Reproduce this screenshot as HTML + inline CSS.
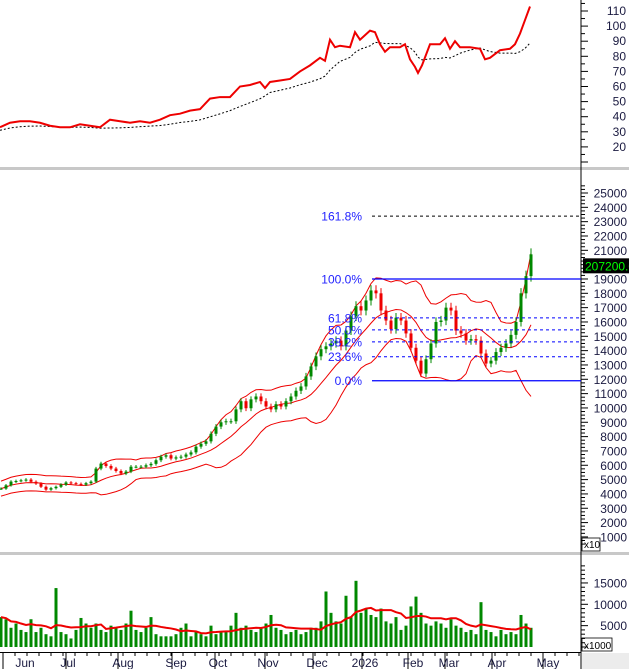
<!DOCTYPE html>
<html><head><meta charset="utf-8"><style>
body{margin:0;background:#fff;}
svg{display:block;font-family:"Liberation Sans",sans-serif;}
</style></head><body>
<svg id="c" width="629" height="669" xmlns="http://www.w3.org/2000/svg"></svg>
<script>
const closes=[4370,4600,4860,4900,4950,5000,4850,4720,4500,4300,4400,4500,4650,4800,4750,4700,4650,4750,4860,5770,6120,5950,5770,5600,5420,5560,5900,5900,5900,6000,6100,6350,6600,6700,6470,6550,6600,6750,6900,7300,7500,7670,8200,8700,9000,9070,9070,9900,10470,9980,10600,10800,10470,10100,9900,10260,10100,10470,10800,11200,11500,12200,12900,13600,14100,14300,14500,14700,14300,15400,16400,17100,16800,17500,18200,18000,16800,16100,15500,16300,16100,15200,14200,13300,12400,13400,14500,16000,16100,17000,16800,15400,15200,14700,14800,14700,13800,13100,13300,13900,14200,14500,15100,16000,18000,19200,20720];
const volumes=[7000,6500,4500,5500,4000,3500,6500,3500,4500,3000,2500,13800,3500,3000,2000,4000,6800,5500,4500,5500,4000,3500,5000,4500,4000,5500,8500,4000,3500,4500,7000,3000,2500,2500,2500,3000,4500,5500,2500,3500,3000,2500,5000,3000,3500,3500,5000,8000,4500,5000,4000,3500,4500,5500,7500,4500,4000,3000,3500,4000,3000,3500,4500,4500,6000,13000,8000,6000,5500,12000,7000,15500,8000,9000,7500,7000,9000,6000,5500,7000,4000,5000,9500,11800,8000,5500,5000,6000,5500,4500,6500,5000,4500,3500,4000,3000,10500,4000,3500,2500,4000,3000,3500,3000,7500,5500,4500];
const rsX=[0,10,20,30,40,50,60,70,80,90,100,110,120,130,140,150,160,170,180,190,200,210,220,230,240,250,260,265,270,280,290,300,310,320,325,330,335,340,350,355,360,370,375,380,385,390,400,405,410,415,418,422,430,440,445,450,455,460,470,480,485,490,500,510,515,520,525,530];
const rsVals=[33,36,37,37,36,34,33,33,35,34,33,38,37,36,37,36,38,41,42,44,45,52,53,53,60,61,63,59,63,64,65,70,74,79,77,91,86,87,86,96,91,97,96,88,83,86,86,88,78,73,69,74,88,88,92,85,90,86,86,85,78,79,84,85,88,95,104,113];
const priceTicks=[25000,24000,23000,22000,21000,20000,19000,18000,17000,16000,15000,14000,13000,12000,11000,10000,9000,8000,7000,6000,5000,4000,3000,2000,1000];
const topTicks=[110,100,90,80,70,60,50,40,30,20];
const volTicks=[15000,10000,5000];
const fibPct=["0.0%","23.6%","38.2%","50.0%","61.8%","100.0%","161.8%"];
const fibRatio=[0,0.236,0.382,0.5,0.618,1,1.618];
const fibLow=11900, fibHigh=19000;
const months=["Jun","Jul","Aug","Sep","Oct","Nov","Dec","2026","Feb","Mar","Apr","May"];
const monthX=[25,68,123,176,218,268,317,365,413,449,497,548];
const monthBounds=[3,66,118,172,215,265,313,362,408,445,492,543];

const svg=document.getElementById('c');const NS="http://www.w3.org/2000/svg";
function el(t,a,p){const e=document.createElementNS(NS,t);for(const k in a)e.setAttribute(k,a[k]);(p||svg).appendChild(e);return e;}
const xi=i=>1+i*5;
const yP=v=>193+(25000-v)*0.01433;
const yT=v=>11+(110-v)*1.51;
const yV=v=>647-v*0.00427;
const AX=581;

let s1=el('rect',{x:0,y:167,width:629,height:3,fill:'#c8c8c8'});


let s2=el('rect',{x:0,y:552,width:629,height:3,fill:'#c8c8c8'});


let ax=el('line',{x1:AX,y1:0,x2:AX,y2:669,stroke:'#000','stroke-width':1});



const tg=el('g',{});


for(let v=115;v>=10;v-=5){el('line',{x1:AX,y1:yT(v),x2:AX+(v%10?4:7),y2:yT(v),stroke:'#000'},tg);}
topTicks.forEach(v=>{const t=el('text',{x:626,y:yT(v)+4,'font-size':12,'text-anchor':'end',fill:'#1a1a40'},tg);t.textContent=v;

});
let rsPts=rsX.map((x,i)=>x+','+yT(rsVals[i]));
let maPts=[];for(let i=0;i<rsVals.length;i++){let a=Math.max(0,i-7),s=0;for(let j=a;j<=i;j++)s+=rsVals[j];maPts.push(rsX[i]+','+(yT(s/(i-a+1))+3));}
let rsMa=el('polyline',{points:maPts.join(' '),fill:'none',stroke:'#000','stroke-dasharray':'2,2','stroke-width':1},tg);


let rsL=el('polyline',{points:rsPts.join(' '),fill:'none',stroke:'#e00','stroke-width':2},tg);



const pg=el('g',{});


for(let v=25500;v>=500;v-=250){el('line',{x1:AX,y1:yP(v),x2:AX+(v%1000?4:7),y2:yP(v),stroke:'#000'},pg);}
priceTicks.forEach(v=>{const t=el('text',{x:627,y:yP(v)+4.5,'font-size':12,'text-anchor':'end',fill:'#1a1a40'},pg);t.textContent=v;

});
const N=10;let up=[],mid=[],lo=[];
for(let i=0;i<closes.length;i++){let a=Math.max(0,i-N+1),n=i-a+1,s=0;for(let j=a;j<=i;j++)s+=closes[j];let m=s/n,q=0;for(let j=a;j<=i;j++)q+=(closes[j]-m)**2;let sd=Math.max(Math.sqrt(q/n),m*0.06);
up.push(xi(i)+','+yP(m+2*sd));mid.push(xi(i)+','+yP(m));lo.push(xi(i)+','+yP(m-2*sd));}
[['bollinger-upper',up],['bollinger-middle',mid],['bollinger-lower',lo]].forEach(([n,p])=>{let l=el('polyline',{points:p.join(' '),fill:'none',stroke:'#e00','stroke-width':1},pg);

});
closes.forEach((c,i)=>{const o=i?closes[i-1]:c;const up_=c>=o;const col=up_?'#080':'#e00';
const hi=Math.max(o,c)*1.02,lw=Math.min(o,c)*0.98;const x=xi(i);
const g=el('g',{},pg);


el('line',{x1:x,y1:yP(hi),x2:x,y2:yP(lw),stroke:col},g);
const y1=yP(Math.max(o,c)),h=Math.max(1,yP(Math.min(o,c))-y1);
el('rect',{x:x-1.5,y:y1,width:3,height:h,fill:col},g);});
fibRatio.forEach((r,k)=>{const v=fibLow+(fibHigh-fibLow)*r;const y=yP(v);const solid=(r===0||r===1);
const l=el('line',{x1:372,y1:y,x2:AX,y2:y,stroke:solid?'#00f':(r>1.5?'#000':'#00f'),'stroke-width':solid?1.3:1,'stroke-dasharray':solid?'none':'3,3'},pg);


const t=el('text',{x:362,y:y+4.5,'font-size':12,'text-anchor':'end',fill:'#22f'},pg);t.textContent=fibPct[k];

});
const lastC=closes[closes.length-1];
let tagR=el('rect',{x:583,y:yP(lastC)+4,width:46,height:15,fill:'#000'},pg);


let tagT=el('text',{x:585,y:yP(lastC)+16,'font-size':12,fill:'#0f0'},pg);tagT.textContent='207200.0';


let x10=el('text',{x:584,y:548,'font-size':10,fill:'#000'},pg);x10.textContent='x10';


el('rect',{x:582,y:538,width:18,height:13,fill:'none',stroke:'#000','stroke-width':0.8},pg);

const vg=el('g',{});


for(let v=19000;v>=0;v-=1000){el('line',{x1:AX,y1:yV(v),x2:AX+(v%5000?4:7),y2:yV(v),stroke:'#000'},vg);}
volTicks.forEach(v=>{const t=el('text',{x:627,y:yV(v)+4.5,'font-size':12,'text-anchor':'end',fill:'#1a1a40'},vg);t.textContent=v;

});
volumes.forEach((v,i)=>{const b=el('rect',{x:xi(i)-1.5,y:yV(v),width:3,height:647-yV(v),fill:'#080'},vg);

});
let vma=[];for(let i=0;i<volumes.length;i++){let a=Math.max(0,i-9),s=0;for(let j=a;j<=i;j++)s+=volumes[j];vma.push(xi(i)+','+yV(s/(i-a+1)));}
let vl=el('polyline',{points:vma.join(' '),fill:'none',stroke:'#e00','stroke-width':2},vg);


let x1k=el('text',{x:584,y:649,'font-size':10,fill:'#000'},vg);x1k.textContent='x1000';


el('rect',{x:582,y:638,width:30,height:13,fill:'none',stroke:'#000','stroke-width':0.8},vg);

const dg=el('g',{});


el('rect',{x:582,y:653,width:47,height:16,fill:'#ececec'},dg);
el('line',{x1:0,y1:652.5,x2:AX,y2:652.5,stroke:'#000'},dg);
monthBounds.forEach(x=>el('line',{x1:x,y1:652,x2:x,y2:669,stroke:'#000'},dg));
for(let x=3;x<AX;x+=12)el('line',{x1:x,y1:652,x2:x,y2:656,stroke:'#000'},dg);
months.forEach((m,i)=>{const t=el('text',{x:monthX[i],y:667,'font-size':12,'text-anchor':'middle',fill:'#1a1a40'},dg);t.textContent=m;

});
</script>
</body></html>
